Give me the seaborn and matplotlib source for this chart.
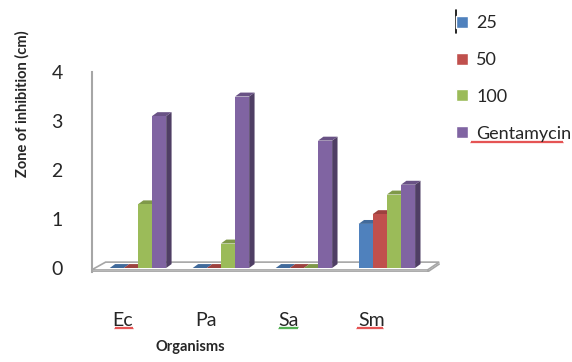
import numpy as np
import pandas as pd
import matplotlib
matplotlib.use('Agg')
import matplotlib.pyplot as plt
import matplotlib.colors as mcolors
from matplotlib.patches import Polygon
from matplotlib.transforms import ScaledTranslation
from matplotlib.lines import Line2D
import seaborn as sns

# data
organisms = ['Ec', 'Pa', 'Sa', 'Sm']
series = ['25', '50', '100', 'Gentamycin']
vals_25 = [0.0, 0.0, 0.0, 0.9]
vals_50 = [0.0, 0.0, 0.0, 1.1]
vals_100 = [1.3, 0.5, 0.0, 1.5]
vals_gent = [3.1, 3.5, 2.6, 1.7]
colors = ['#4F81BD', '#C0504D', '#9BBB59', '#8064A2']

rows = []
for s, vals in zip(series, [vals_25, vals_50, vals_100, vals_gent]):
    for org, v in zip(organisms, vals):
        rows.append({'organism': org, 'conc': s, 'zone': v})
df = pd.DataFrame(rows)

sns.set_style('white')
plt.rcParams['font.family'] = ['Lato', 'DejaVu Sans']

fig = plt.figure(figsize=(5.72, 3.62), dpi=100)
ax = fig.add_axes([92 / 572, 90 / 362, 348 / 572, 200 / 362])

sns.barplot(data=df, x='organism', y='zone', hue='conc', order=organisms,
            hue_order=series, palette=colors, saturation=1, width=0.68,
            edgecolor='none', linewidth=0, legend=False, ax=ax)

bars = sorted(ax.patches, key=lambda p: p.get_x())
dx, dy = 0.065, 0.08

# floor slab
floor = Polygon([(-0.56, -0.04), (3.49, -0.04), (3.63, 0.12), (-0.39, 0.12)],
                closed=True, facecolor='white', edgecolor='#a6a6a6', lw=1.2, zorder=1)
ax.add_patch(floor)
ax.plot([-0.56, 3.49, 3.63], [-0.08, -0.08, 0.08], color='#a6a6a6', lw=1.2, zorder=1)
ax.plot([3.49, 3.49], [-0.04, -0.08], color='#a6a6a6', lw=1.2, zorder=1)

for k, b in enumerate(bars):
    x0, w, h = b.get_x(), b.get_width(), b.get_height()
    base = mcolors.to_rgb(b.get_facecolor())
    top_c = tuple(c * 0.82 for c in base)
    side_c = tuple(c * 0.62 for c in base)
    z = 2 + k * 3
    side = Polygon([(x0 + w, 0), (x0 + w + dx, dy), (x0 + w + dx, h + dy), (x0 + w, h)],
                   closed=True, facecolor=side_c, edgecolor='none', zorder=z)
    top = Polygon([(x0, h), (x0 + dx, h + dy), (x0 + w + dx, h + dy), (x0 + w, h)],
                  closed=True, facecolor=top_c, edgecolor='none', zorder=z)
    ax.add_patch(side)
    ax.add_patch(top)
    b.set_zorder(z + 1)

ax.set_xlim(-0.554, 3.64)
ax.set_ylim(-4 / 49, 4)
ax.set_yticks([0, 1, 2, 3, 4])
ax.set_yticklabels(['0', '1', '2', '3', '4'])
ax.set_xlabel('')
ax.set_ylabel('')
ax.tick_params(axis='y', length=0, pad=21, labelsize=14)
ax.tick_params(axis='x', length=0, pad=29, labelsize=14)
for lab in ax.get_xticklabels():
    lab.set_transform(lab.get_transform() + ScaledTranslation(-0.15, 0, fig.dpi_scale_trans))

for sp in ['top', 'right', 'bottom']:
    ax.spines[sp].set_visible(False)
ax.spines['left'].set_color('#a6a6a6')
ax.spines['left'].set_linewidth(1.5)

fig.text(22 / 572, 1 - 104 / 362, 'Zone of inhibition (cm)', rotation=90,
         ha='center', va='center', fontsize=10.5, fontweight='bold')
fig.text(190 / 572, 1 - 347 / 362, 'Organisms', ha='center', va='center',
         fontsize=10.5, fontweight='bold')

handles = [plt.Rectangle((0, 0), 1, 1, facecolor=c) for c in colors]
fig.legend(handles, series, loc='upper left', bbox_to_anchor=(449 / 572, 1 - 8 / 362),
           frameon=False, fontsize=13, handlelength=0.65, handleheight=0.65,
           handletextpad=0.45, labelspacing=1.15, borderaxespad=0)
fig.add_artist(Line2D([456 / 572, 456 / 572], [1 - 10 / 362, 1 - 33 / 362],
                      color='black', lw=1.2))


# spell-check squiggles under some words, as in the reference screenshot
def squiggle(x0, x1, y, color):
    xs = np.arange(x0, x1 + 0.1, 1.0)
    ys = y + np.where(np.arange(len(xs)) % 2 == 0, 0.8, -0.8)
    fig.add_artist(Line2D(xs / 572, 1 - ys / 362, color=color, lw=0.8))


squiggle(115, 133, 328, '#e03030')
squiggle(279, 298, 328, '#30a030')
squiggle(357, 383, 328, '#e03030')
squiggle(471, 563, 142, '#e03030')

fig.savefig('out.png', dpi=100)
